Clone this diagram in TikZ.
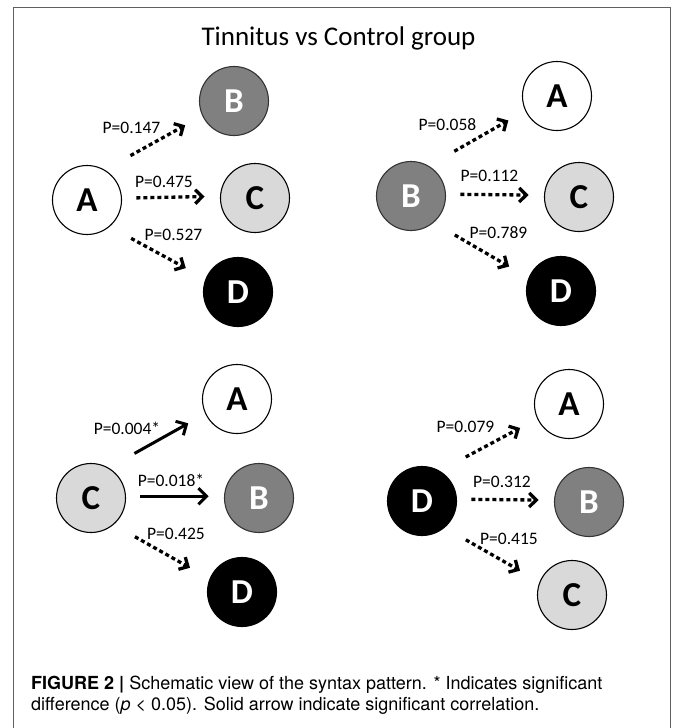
\documentclass[tikz,border=0pt]{standalone}
\usepackage{fontspec}
\setmainfont{Carlito}
\newfontfamily\capfont{TeX Gyre Heros}
\usetikzlibrary{arrows.meta}

\definecolor{midgray}{HTML}{808080}
\definecolor{lightfill}{HTML}{D9D9D9}
\definecolor{framegray}{HTML}{606060}

\tikzset{
  circ/.style={circle, draw, line width=1.1pt, minimum size=69pt, inner sep=0pt, outer sep=0pt,
    font=\bfseries\fontsize{35}{38}\selectfont},
  nodewhite/.style={circ, fill=white, text=black},
  nodelight/.style={circ, fill=lightfill, text=black},
  nodegray/.style={circ, draw=black!80, fill=midgray, text=white},
  nodeblack/.style={circ, fill=black, text=white},
  dotarrow/.style={line width=3.3pt, dash pattern=on 4pt off 3pt, -{Straight Barb[length=7pt,width=14pt]}},
  solidarrow/.style={line width=3pt, -{Straight Barb[length=8pt,width=16pt]}},
  goup/.style={shorten <=30pt, shorten >=20pt},
  goright/.style={shorten <=15pt, shorten >=16pt},
  godown/.style={shorten <=25pt, shorten >=23pt},
  plabel/.style={inner sep=0pt, font=\fontsize{17.5}{20}\selectfont},
  captext/.style={anchor=base west, inner sep=0pt, font=\capfont\fontsize{18}{21}\selectfont}
}

\begin{document}
\begin{tikzpicture}[x=1pt, y=-1pt]
  \useasboundingbox (0,0) rectangle (672,728);

  % Frame
  \draw[framegray, line width=1pt] (13,728) -- (13,7) -- (670,7) -- (670,728);

  % Title
  \node[anchor=base, inner sep=0pt, font=\fontsize{27}{32}\selectfont] (title) at (338.5,45) {Tinnitus vs Control group};

  % A as source
  \node[nodewhite] (A1) at (87,200) {A};
  \node[nodegray]  (B1) at (234,101) {B};
  \node[nodelight] (C1) at (255,198) {C};
  \node[nodeblack] (D1) at (238,292) {D};
  \draw[dotarrow, goup]    (A1.60) -- (B1.205);
  \draw[dotarrow, goright] (A1.3) -- (C1.177);
  \draw[dotarrow, godown]  (A1.-50) -- (D1.158);
  \node[plabel] (pAB) at (131.5,128) {P=0.147};
  \node[plabel] (pAC) at (164,182) {P=0.475};
  \node[plabel] (pAD) at (173.5,235) {P=0.527};

  % B as source
  \node[nodegray]  (B2) at (411,196) {B};
  \node[nodewhite] (A2) at (557,96) {A};
  \node[nodelight] (C2) at (579,197) {C};
  \node[nodeblack] (D2) at (561,291) {D};
  \draw[dotarrow, goup]    (B2.60) -- (A2.205);
  \draw[dotarrow, goright] (B2.3) -- (C2.177);
  \draw[dotarrow, godown]  (B2.-50) -- (D2.158);
  \node[plabel] (pBA) at (447.5,125) {P=0.058};
  \node[plabel] (pBC) at (489.5,176) {P=0.112};
  \node[plabel] (pBD) at (498.5,233) {P=0.789};

  % C as source (significant ones solid)
  \node[nodelight] (C3) at (91,498) {C};
  \node[nodewhite] (A3) at (237,399) {A};
  \node[nodegray]  (B3) at (259,498) {B};
  \node[nodeblack] (D3) at (242,592) {D};
  \draw[solidarrow, goup]    (C3.60) -- (A3.205);
  \draw[solidarrow, goright] (C3.3) -- (B3.177);
  \draw[dotarrow, godown]    (C3.-50) -- (D3.158);
  \node[plabel] (pCA) at (127,428) {P=0.004*};
  \node[plabel] (pCB) at (171,480) {P=0.018*};
  \node[plabel] (pCD) at (176,534) {P=0.425};

  % D as source
  \node[nodeblack] (D4) at (422,501) {D};
  \node[nodewhite] (A4) at (569,404) {A};
  \node[nodegray]  (B4) at (589,502) {B};
  \node[nodelight] (C4) at (572,595) {C};
  \draw[dotarrow, goup]    (D4.60) -- (A4.205);
  \draw[dotarrow, goright] (D4.3) -- (B4.177);
  \draw[dotarrow, godown]  (D4.-50) -- (C4.158);
  \node[plabel] (pDA) at (465.5,427) {P=0.079};
  \node[plabel] (pDB) at (502,482) {P=0.312};
  \node[plabel] (pDC) at (509,539) {P=0.415};

  % Caption
  \node[captext] (cap1) at (31,689)
    {\textbf{FIGURE 2 |} Schematic view of the syntax pattern. * Indicates significant};
  \node[captext] (cap2) at (31,710)
    {difference (\textit{p} < 0.05). Solid arrow indicate significant correlation.};
\end{tikzpicture}
\end{document}
